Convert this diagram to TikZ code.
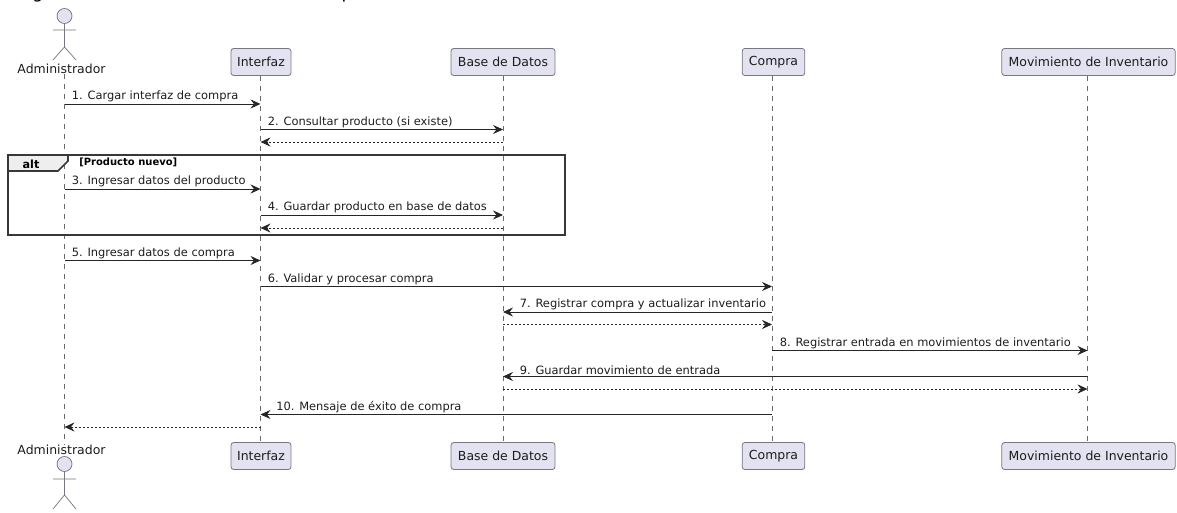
\documentclass[tikz,border=0pt]{standalone}
\usepackage{fontspec}
\setmainfont{DejaVu Sans}
\usetikzlibrary{arrows.meta}
\definecolor{boxfill}{HTML}{E2E2F0}
\definecolor{boxline}{HTML}{777782}
\definecolor{lifeline}{HTML}{6A6A6A}
\definecolor{inktext}{HTML}{1C1C1C}
\definecolor{tabfill}{HTML}{EEEEEE}
\tikzset{
  partbox/.style={draw=boxline,fill=boxfill,rounded corners=2pt,line width=0.6pt,inner sep=0pt,
    minimum height=20.25pt,font=\fontsize{9.35}{11}\selectfont,text=inktext,anchor=center},
  actorname/.style={inner sep=0pt,font=\fontsize{9.35}{11}\selectfont,text=inktext},
  actorline/.style={draw=boxline,line width=0.55pt},
  life/.style={draw=lifeline,line width=0.4pt,dash pattern=on 3.75pt off 3.75pt},
  msg/.style={draw=black!85,line width=0.65pt,-{Stealth[length=7.5pt,width=6.8pt,inset=2.6pt]}},
  ret/.style={msg,line width=0.5pt,dash pattern=on 1.5pt off 1.5pt},
  msgtext/.style={anchor=south west,inner sep=0.75pt,font=\fontsize{8.58}{10}\selectfont,text=inktext},
  frameline/.style={draw=black!78,line width=1.15pt}
}
\begin{document}
\begin{tikzpicture}[x=0.75pt,y=0.75pt,yscale=-1,xscale=1]
\useasboundingbox (0,0) rectangle (1177,513);
\clip (0,0) rectangle (1177,513);

% clipped title, only the descenders are left
\node (titleg) [anchor=base,inner sep=0pt,font=\fontsize{13}{15}\selectfont,text=black] at (38,-1) {g};
\node (titlep) [anchor=base,inner sep=0pt,font=\fontsize{13}{15}\selectfont,text=black] at (347,-1) {p};

% Top participants
\node (adminT) [actorname] at (61.5,69) {Administrador};
\node (ifazT) [partbox,minimum width=45pt] at (261,62) {Interfaz};
\node (baseT) [partbox,minimum width=78pt] at (503,62) {Base de Datos};
\node (compraT) [partbox,minimum width=47pt] at (773.5,62) {Compra};
\node (movT) [partbox,minimum width=130pt] at (1088.5,62) {Movimiento de Inventario};

% Bottom participants
\node (adminB) [actorname] at (61.5,450) {Administrador};
\node (ifazB) [partbox,minimum width=45pt] at (261,456) {Interfaz};
\node (baseB) [partbox,minimum width=78pt] at (503,456) {Base de Datos};
\node (compraB) [partbox,minimum width=47pt] at (773.5,456) {Compra};
\node (movB) [partbox,minimum width=130pt] at (1088.5,456) {Movimiento de Inventario};

% Messages are drawn between these lifeline positions
\coordinate (a) at (64.5,0);
\coordinate (i) at (260.5,0);
\coordinate (b) at (503,0);
\coordinate (c) at (772,0);
\coordinate (m) at (1087.5,0);

% Lifelines
\draw [life] (a |- adminT.south) -- (a |- adminB.north);
\draw [life] (i |- ifazT.south) -- (i |- ifazB.north);
\draw [life] (b |- baseT.south) -- (b |- baseB.north);
\draw [life] (c |- compraT.south) -- (c |- compraB.north);
\draw [life] (m |- movT.south) -- (m |- movB.north);

% Actor top
\draw [actorline,fill=boxfill] (64.5,16) circle (7.5);
\draw [actorline] (64.5,23.5) -- (64.5,47) (53,30) -- (76,30) (53,60) -- (64.5,47) -- (76,60);
% Actor bottom
\draw [actorline,fill=boxfill] (64.5,464) circle (7.5);
\draw [actorline] (64.5,471.5) -- (64.5,495) (53,479) -- (76,479) (53,509) -- (64.5,495) -- (76,509);

\draw [msg] (a |- 0,104) -- (i |- 0,104);
\node (txtA) [msgtext] at (70.5,103.5) {1. Cargar interfaz de compra};
\draw [msg] (i |- 0,129.5) -- (b |- 0,129.5);
\node (txtB) [msgtext] at (266.5,129) {2. Consultar producto (si existe)};
\draw [ret] (b |- 0,142) -- (i |- 0,142);

% alt frame
\draw [frameline,fill=tabfill] (8,155) -- (68,155) -- (68,161) -- (58,171) -- (8,171) -- cycle;
\draw [frameline] (8,155) rectangle (565,235);
\node (altlabel) [anchor=center,inner sep=0pt,font=\bfseries\fontsize{8.4}{10}\selectfont,text=black] at (31,164) {alt};
\node (altguard) [anchor=west,inner sep=0pt,font=\bfseries\fontsize{7.5}{9}\selectfont,text=black] at (79,162.5) {[Producto nuevo]};

\draw [msg] (a |- 0,189) -- (i |- 0,189);
\node (txtC) [msgtext] at (70.5,188.5) {3. Ingresar datos del producto};
\draw [msg] (i |- 0,215) -- (b |- 0,215);
\node (txtD) [msgtext] at (266.5,214.5) {4. Guardar producto en base de datos};
\draw [ret] (b |- 0,228) -- (i |- 0,228);

\draw [msg] (a |- 0,260.5) -- (i |- 0,260.5);
\node (txtE) [msgtext] at (70.5,260) {5. Ingresar datos de compra};
\draw [msg] (i |- 0,286.5) -- (c |- 0,286.5);
\node (txtF) [msgtext] at (266.5,286) {6. Validar y procesar compra};
\draw [msg] (c |- 0,312) -- (b |- 0,312);
\node (txtG) [msgtext] at (518.5,311.5) {7. Registrar compra y actualizar inventario};
\draw [ret] (b |- 0,324.5) -- (c |- 0,324.5);
\draw [msg] (c |- 0,350.5) -- (m |- 0,350.5);
\node (txtH) [msgtext] at (778.5,350) {8. Registrar entrada en movimientos de inventario};
\draw [msg] (m |- 0,376.5) -- (b |- 0,376.5);
\node (txtI) [msgtext] at (518.5,376) {9. Guardar movimiento de entrada};
\draw [ret] (b |- 0,389) -- (m |- 0,389);
\draw [msg] (c |- 0,414.5) -- (i |- 0,414.5);
\node (txtJ) [msgtext] at (275,414) {10. Mensaje de éxito de compra};
\draw [ret] (i |- 0,427) -- (a |- 0,427);

\end{tikzpicture}
\end{document}
